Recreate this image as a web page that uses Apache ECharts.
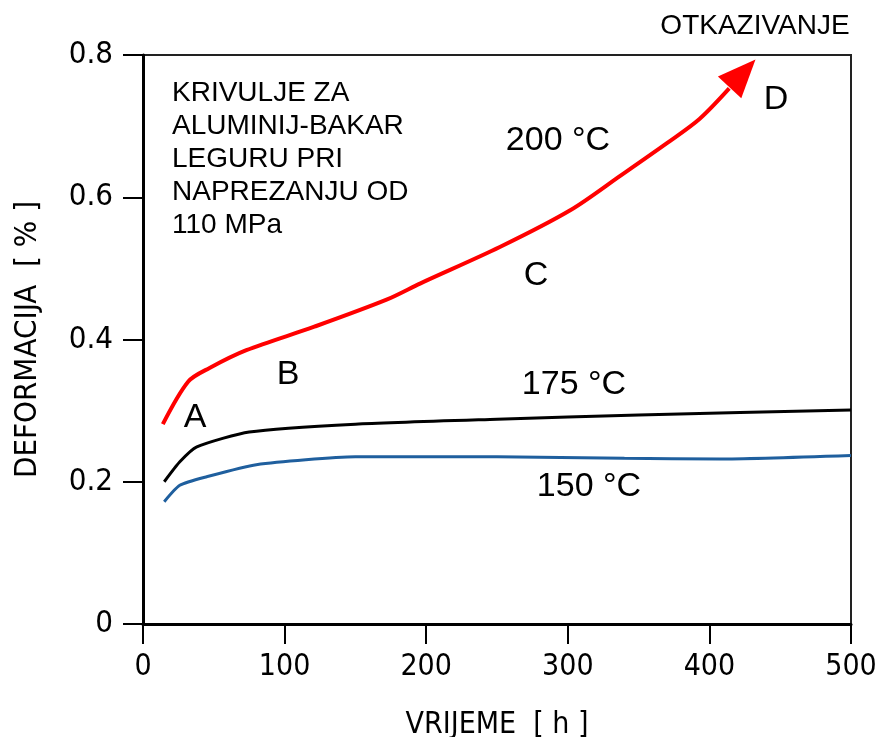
<!DOCTYPE html>
<html>
<head>
<meta charset="utf-8">
<script src="https://cdn.jsdelivr.net/npm/echarts@6/dist/echarts.min.js"></script>
<style>
html,body{margin:0;padding:0;background:#fff;}
#chart{width:875px;height:737px;}
</style>
</head>
<body>
<div id="chart"></div>
<script>
// ---- data ----
var xTicks = [0, 100, 200, 300, 400, 500];
var yTicks = [0, 0.2, 0.4, 0.6, 0.8];
var curve200 = [[14,0.281],[32,0.341],[47,0.360],[73,0.385],[121,0.418],[172,0.456],[196,0.479],[252,0.530],[302,0.582],[337,0.630],[370,0.676],[393,0.710],[414,0.753]];
var curve175 = [[15,0.200],[26,0.228],[38,0.249],[75,0.270],[150,0.281],[250,0.288],[350,0.294],[500,0.301]];
var curve150 = [[15,0.172],[26,0.195],[45,0.207],[80,0.224],[150,0.235],[250,0.235],[340,0.233],[407,0.232],[500,0.237]];
var failureHead = [[423.4,0.774]];
var xName = 'VRIJEME  [ h ]';
var yName = 'DEFORMACIJA  [ % ]';
var noteLines = ['KRIVULJE ZA','ALUMINIJ-BAKAR','LEGURU PRI','NAPREZANJU OD','110 MPa'];

var narrow = '"Liberation Sans Narrow","Arial Narrow","DejaVu Sans Condensed",sans-serif';
var sans = '"Liberation Sans",Arial,sans-serif';

var chart = echarts.init(document.getElementById('chart'), null, {renderer:'canvas'});

function txt(t, x, y, size, align, font) {
  return {type:'text', x:x, y:y, z:10, style:{text:t, fill:'#000', font: size+'px '+(font||sans), textAlign:align||'center', textVerticalAlign:'middle'}};
}

var graphics = [
  txt('OTKAZIVANJE', 755, 26, 28),
  txt('D', 776, 100, 34),
  txt('200 °C', 558, 141, 34),
  txt('C', 536, 276, 34),
  txt('B', 288, 375, 34),
  txt('A', 195, 418, 34),
  txt('175 °C', 574, 385, 34),
  txt('150 °C', 589, 487, 34)
];
var noteGraphics = noteLines.map(function(l, i){
  return {type:'text', z:10, style:{text:l, fill:'#000', font:'28px '+sans, textAlign:'left', textVerticalAlign:'middle'}, x:172, y:93 + i*33};
});

chart.setOption({
  animation:false,
  backgroundColor:'#fff',
  grid:{left:143, right:24, top:55, bottom:113, show:true, borderColor:'#222', borderWidth:2, backgroundColor:'transparent', outerBoundsMode:'none', containLabel:false},
  xAxis:{
    type:'value', min:0, max:500, interval:100,
    name:xName, nameLocation:'middle', nameGap:86,
    nameTextStyle:{fontFamily:narrow, fontSize:30, color:'#000'},
    axisLine:{show:true, onZero:false, lineStyle:{color:'#000', width:3}},
    axisTick:{show:true, inside:false, length:20, lineStyle:{color:'#000', width:2}},
    axisLabel:{fontFamily:narrow, fontSize:30, color:'#000', margin:28,
      formatter:function(v){ return xTicks.indexOf(v) >= 0 ? String(v) : ''; }},
    splitLine:{show:false}
  },
  yAxis:{
    type:'value', min:0, max:0.8, interval:0.2,
    name:yName, nameLocation:'middle', nameGap:100, nameRotate:90,
    nameTextStyle:{fontFamily:narrow, fontSize:31, color:'#000'},
    axisLine:{show:true, onZero:false, lineStyle:{color:'#000', width:3}},
    axisTick:{show:true, inside:false, length:20, lineStyle:{color:'#000', width:2}},
    axisLabel:{fontFamily:narrow, fontSize:31, color:'#000', margin:30,
      formatter:function(v){ var r = Math.round(v*10)/10; return yTicks.indexOf(r) >= 0 ? (r===0?'0':r.toFixed(1)) : ''; }},
    splitLine:{show:false}
  },
  series:[
    {type:'line', data:curve200, symbol:'none', smooth:0.3, lineStyle:{color:'#ff0000', width:4}, z:3},
    {type:'line', data:curve175, symbol:'none', smooth:0.2, lineStyle:{color:'#000000', width:3}, z:3},
    {type:'line', data:curve150, symbol:'none', smooth:0.2, lineStyle:{color:'#1f5f9e', width:3}, z:3},
    {type:'scatter', data:failureHead, symbol:'triangle', symbolSize:[32,38], symbolRotate:-43, itemStyle:{color:'#ff0000', opacity:1}, z:4}
  ],
  graphic: graphics.concat(noteGraphics)
});
</script>
</body>
</html>
